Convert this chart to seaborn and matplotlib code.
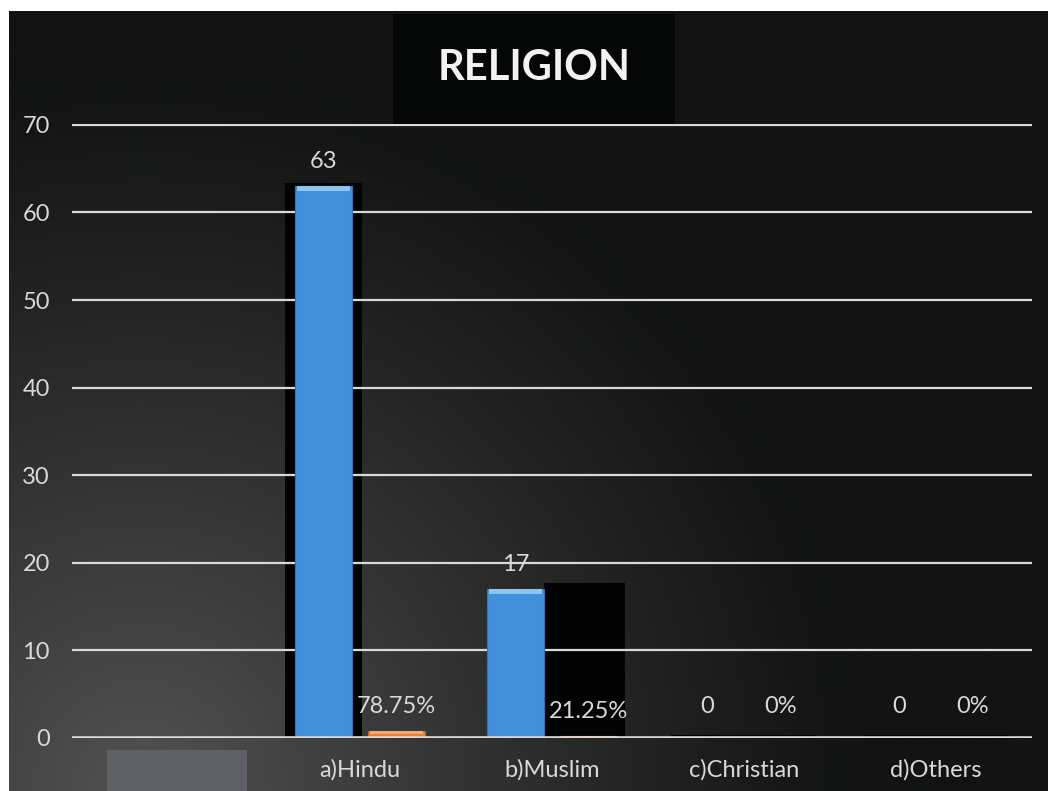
import numpy as np
import pandas as pd
import matplotlib
matplotlib.use("Agg")
import matplotlib.pyplot as plt
import seaborn as sns
from matplotlib.patches import Rectangle

# ---------------- data ----------------
categories = ["", "a)Hindu", "b)Muslim", "c)Christian", "d)Others"]
counts = [None, 63, 17, 0, 0]
shares = [None, 0.7875, 0.2125, 0.0, 0.0]
count_labels = ["", "63", "17", "0", "0"]
share_labels = ["", "78.75%", "21.25%", "0%", "0%"]
series_names = ["Count", "Percent"]
y_ticks = [0, 10, 20, 30, 40, 50, 60, 70]
title_text = "RELIGION"

rows = []
for cat, c, s in zip(categories, counts, shares):
    if c is not None:
        rows.append({"category": cat, "series": series_names[0], "value": c})
    if s is not None:
        rows.append({"category": cat, "series": series_names[1], "value": s})
df = pd.DataFrame(rows)

# ---------------- style ----------------
sns.set_theme(style="dark")
plt.rcParams["font.family"] = ["Lato", "DejaVu Sans"]
TXT = "#d9d9d9"
BLUE = "#4290d9"
ORANGE = "#ed7d31"

W, H = 1048, 791
fig = plt.figure(figsize=(W / 100, H / 100), dpi=100, facecolor="white")

# background panel with radial glow bottom-left
bg = fig.add_axes([9 / W, 0, 1 - 9 / W, 780 / H], zorder=-5)
xs = np.linspace(9, W, 400)
ys = np.linspace(11, H, 300)
XX, YY = np.meshgrid(xs, ys)
d = np.sqrt((XX - 140) ** 2 + (YY - 790) ** 2)
f = np.clip(1 - d / 720, 0, 1) ** 1.15
dark = np.array([0x12, 0x13, 0x13]) / 255
light = np.array([0x52, 0x52, 0x52]) / 255
img = dark[None, None, :] + (light - dark)[None, None, :] * f[:, :, None]
bg.imshow(img, extent=[9, W, H, 11], aspect="auto", interpolation="bilinear")
bg.set_xlim(9, W)
bg.set_ylim(H, 11)
bg.axis("off")

# title box
bg.add_patch(Rectangle((393, 14), 282, 111, facecolor="#050606", edgecolor="none", zorder=2))
bg.text(534, 68, title_text, color="#f2f2f2", fontsize=30, fontweight="bold",
        ha="center", va="center", zorder=3)
# grey placeholder label box under first category
bg.add_patch(Rectangle((107, 750), 140, 45, facecolor="#5f6065", edgecolor="none", zorder=2))

# main axes
ax = fig.add_axes([72 / W, 1 - 738 / H, 960 / W, (738 - 124) / H])
ax.set_facecolor("none")
ax.patch.set_alpha(0)

sns.barplot(data=df, x="category", y="value", hue="series", order=categories,
            hue_order=series_names, palette=[BLUE, ORANGE], width=0.76, gap=0.21,
            saturation=1, legend=False, ax=ax, zorder=3)

ax.set_xlim(-0.5, len(categories) - 0.5)
ax.set_ylim(0, 70.1)
ax.set_yticks(y_ticks)
ax.set_yticklabels([str(t) for t in y_ticks])
for s in ax.spines.values():
    s.set_visible(False)
ax.set_xlabel("")
ax.set_ylabel("")
ax.tick_params(axis="y", length=0, pad=16, labelsize=17, labelcolor=TXT)
ax.tick_params(axis="x", length=0, pad=15, labelsize=17, labelcolor=TXT)
ax.grid(False)
for t in y_ticks[1:]:
    ax.axhline(t, color=TXT, lw=1.6, zorder=1)
ax.axhline(0, color=TXT, lw=2.6, zorder=4)

px = 70.1 / (738 - 124)  # data units per pixel

blue_bars = list(ax.containers[0])
orange_bars = list(ax.containers[1])

def cat_index(bar):
    return int(round(bar.get_x() + bar.get_width() / 2))

# shadows
for bb in blue_bars:
    i = cat_index(bb)
    ob = [o for o in orange_bars if cat_index(o) == i][0]
    h = bb.get_height()
    if h >= 40:
        ax.add_patch(Rectangle((bb.get_x() - 0.05, 0), bb.get_width() + 0.1, h + 3 * px,
                               facecolor="#030303", edgecolor="none", zorder=0.5))
    elif h > 0:
        x0 = bb.get_x() + bb.get_width()
        x1 = ob.get_x() + ob.get_width() + 0.04
        ax.add_patch(Rectangle((x0, 0), x1 - x0, h + 6 * px,
                               facecolor="#030303", edgecolor="none", zorder=0.5))
    else:
        x0 = bb.get_x() - 0.04
        x1 = ob.get_x() + ob.get_width() + 0.04
        ax.add_patch(Rectangle((x0, 0), x1 - x0, 3 * px,
                               facecolor="#030303", edgecolor="none", zorder=0.5))

# bevel highlight on bar tops
for bars, hl, ec in ((blue_bars, "#8cc6f0", "#2f74bd"), (orange_bars, "#f6a86e", "#c9641f")):
    for b in bars:
        h = b.get_height()
        if h <= 0:
            continue
        hh = min(5 * px, h * 0.4)
        ax.add_patch(Rectangle((b.get_x() + 0.01, h - hh), b.get_width() - 0.02, hh,
                               facecolor=hl, edgecolor="none", zorder=3.5))
        b.set_edgecolor(ec)
        b.set_linewidth(0.8)

# value labels
for bars, labels in ((blue_bars, count_labels), (orange_bars, share_labels)):
    for b in bars:
        i = cat_index(b)
        h = b.get_height()
        off = 15 if h == 0 else 10
        ax.annotate(labels[i], (b.get_x() + b.get_width() / 2, h), xytext=(0, off),
                    textcoords="offset points", ha="center", va="bottom",
                    color=TXT, fontsize=17, zorder=6)

fig.savefig("out.png", dpi=100, facecolor=fig.get_facecolor())
